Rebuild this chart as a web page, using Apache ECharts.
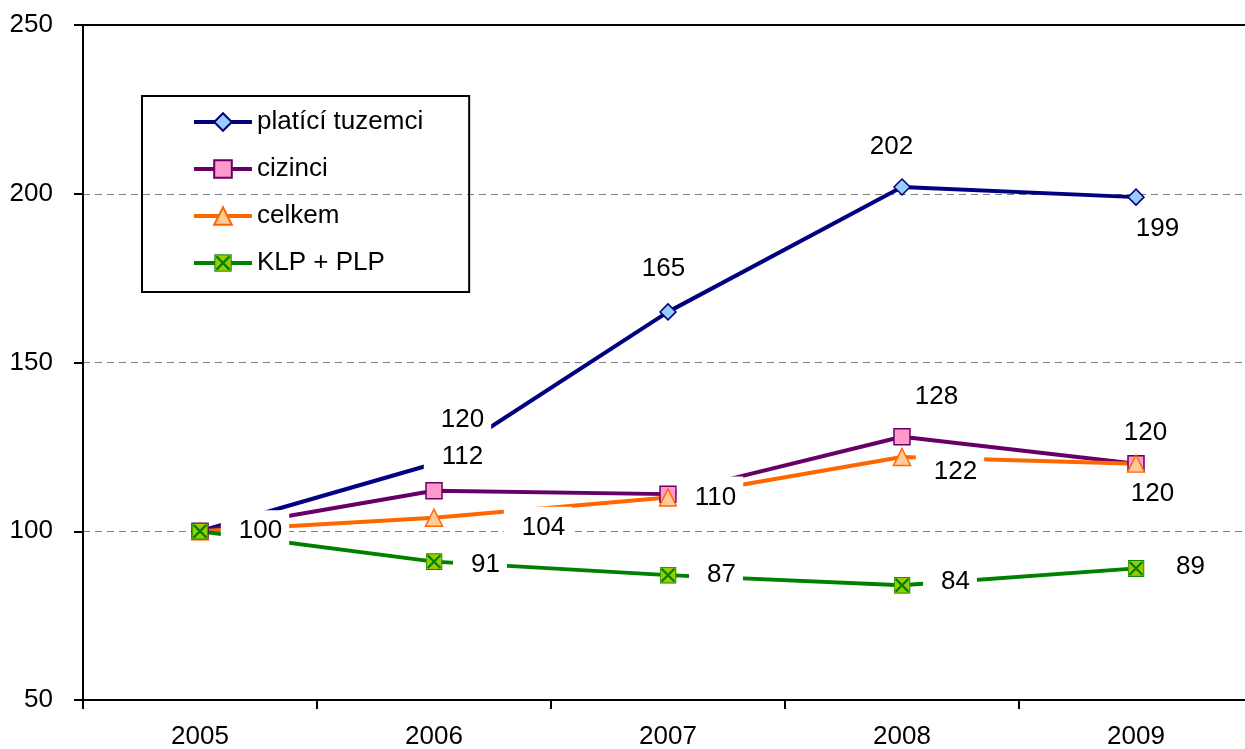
<!DOCTYPE html>
<html>
<head>
<meta charset="utf-8">
<script src="https://cdn.jsdelivr.net/npm/echarts@6/dist/echarts.min.js"></script>
<style>
  html, body { margin: 0; padding: 0; background: #fff; }
  #chart { width: 1245px; height: 749px; }
</style>
</head>
<body>
<div id="chart"></div>
<script>
var years = ['2005', '2006', '2007', '2008', '2009'];
var tuzemci = [100, 120, 165, 202, 199];
var cizinci = [100, 112, 111, 128, 120];
var celkem = [100, 104, 110, 122, 120];
var klpPlp = [100, 91, 87, 84, 89];
var yTicks = [50, 100, 150, 200, 250];

// label offsets from each point (null = no label shown)
var tuzemciLab = [null, [23, -44], [-10, -43], [-16, -40], [16, 32]];
var cizinciLab = [null, [23, -34], null, [29, -40], [4, -31]];
var celkemLab = [null, [104, 10], [42, 0], [48, 15], [11, 30]];
var klpLab = [[55, 0], [46, 3], [48, 0], [48, -3], [49, -2]];

var font = '"Liberation Sans", Arial, sans-serif';

var klpIcon = 'image://data:image/svg+xml;charset=utf-8,' + encodeURIComponent(
  "<svg xmlns='http://www.w3.org/2000/svg' width='16' height='16'>" +
  "<rect x='0.5' y='0.5' width='15' height='15' fill='#99CC00' stroke='#008000' stroke-width='1'/>" +
  "<path d='M2 2L14 14M14 2L2 14' stroke='#008000' stroke-width='2'/></svg>");

function withLabels(values, offsets) {
  var out = [];
  for (var i = 0; i < values.length; i++) {
    var item = { value: values[i] };
    if (offsets[i]) {
      item.label = { show: true, offset: offsets[i] };
    } else {
      item.label = { show: false };
    }
    out.push(item);
  }
  return out;
}

var labelStyle = {
  position: 'inside',
  color: '#000',
  fontSize: 26,
  fontFamily: font,
  backgroundColor: '#fff',
  padding: [8, 7, 8, 18],
  formatter: '{c}'
};

function makeSeries(name, values, offsets, color, symbol, size, fill) {
  return {
    name: name,
    type: 'line',
    data: withLabels(values, offsets),
    symbol: symbol,
    symbolSize: size,
    lineStyle: { color: color, width: 4 },
    itemStyle: { color: fill, borderColor: color, borderWidth: 1.5 },
    label: labelStyle,
    emphasis: { disabled: true },
    animation: false
  };
}

var chart = echarts.init(document.getElementById('chart'));
chart.setOption({
  backgroundColor: '#fff',
  animation: false,
  grid: { left: 83, top: 25, width: 1170, bottom: 49, outerBoundsMode: 'none', containLabel: false },
  legend: {
    orient: 'vertical',
    left: 142,
    top: 96,
    padding: [13, 46, 16, 50],
    borderColor: '#000',
    borderWidth: 2,
    itemWidth: 58,
    itemHeight: 22,
    itemGap: 21,
    lineStyle: { width: 4 },
    textStyle: { fontSize: 26, fontFamily: font, color: '#000', lineHeight: 26 },
    data: ['platící tuzemci', 'cizinci', 'celkem', 'KLP + PLP']
  },
  xAxis: [{
    type: 'category',
    data: years,
    boundaryGap: true,
    axisLine: { lineStyle: { color: '#000', width: 2 } },
    axisTick: { show: true, length: 9, lineStyle: { color: '#000', width: 2 } },
    axisLabel: { color: '#000', fontSize: 26, fontFamily: font, margin: 24 }
  }, {
    type: 'category',
    data: years,
    position: 'top',
    axisLine: { lineStyle: { color: '#000', width: 2 } },
    axisTick: { show: false },
    axisLabel: { show: false }
  }],
  yAxis: {
    type: 'value',
    min: yTicks[0],
    max: yTicks[yTicks.length - 1],
    interval: 50,
    axisLine: { show: true, lineStyle: { color: '#000', width: 2 } },
    axisTick: { show: true, length: 9, lineStyle: { color: '#000', width: 2 } },
    axisLabel: { color: '#000', fontSize: 26, fontFamily: font, margin: 30 },
    splitLine: { show: true, lineStyle: { color: '#808080', type: [7, 5], width: 1 } }
  },
  series: [
    makeSeries('platící tuzemci', tuzemci, tuzemciLab, '#000080', 'diamond', 16, '#99CCFF'),
    makeSeries('cizinci', cizinci, cizinciLab, '#660066', 'rect', 16, '#FF99CC'),
    makeSeries('celkem', celkem, celkemLab, '#FF6600', 'triangle', 17, '#FFCC99'),
    makeSeries('KLP + PLP', klpPlp, klpLab, '#008000', klpIcon, 17, '#99CC00')
  ]
});
</script>
</body>
</html>
